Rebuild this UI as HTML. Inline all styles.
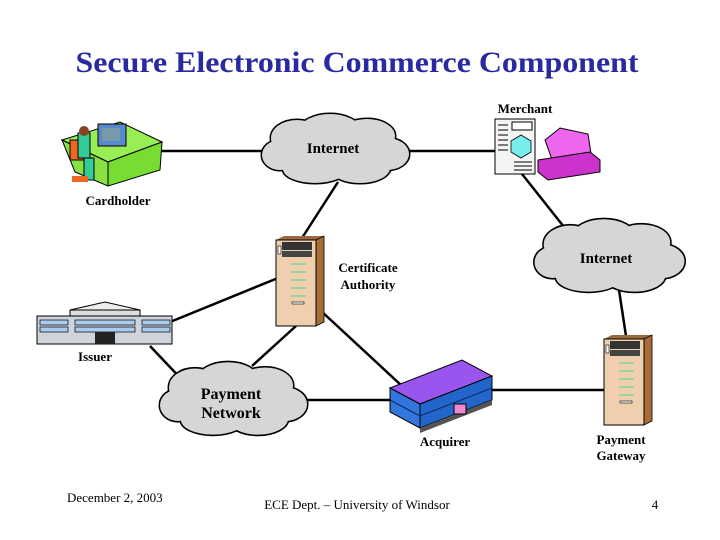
<!DOCTYPE html>
<html><head><meta charset="utf-8"><style>
html,body{margin:0;padding:0;background:#fff;}
svg{display:block}
text{font-family:"Liberation Serif",serif;}
</style></head><body>
<svg width="720" height="540" viewBox="0 0 720 540" xmlns="http://www.w3.org/2000/svg">
<defs>
<g id="cloudShape">
 <ellipse cx="0" cy="0" rx="62" ry="22"/>
 <ellipse cx="-38" cy="-12" rx="26" ry="18"/>
 <ellipse cx="-5" cy="-20" rx="30" ry="16"/>
 <ellipse cx="32" cy="-14" rx="28" ry="17"/>
 <ellipse cx="52" cy="4" rx="22" ry="16"/>
 <ellipse cx="25" cy="18" rx="30" ry="15"/>
 <ellipse cx="-20" cy="19" rx="32" ry="14"/>
 <ellipse cx="-55" cy="5" rx="18" ry="15"/>
</g>
<g id="cloud">
 <use href="#cloudShape" fill="none" stroke="#000" stroke-width="3"/>
 <use href="#cloudShape" fill="#d6d6d6" stroke="none"/>
</g>
<g id="server">
 <polygon points="0,4 8,0 48,0 40,4" fill="#9b6a3c"/>
 <polygon points="40,4 48,0 48,86 40,90" fill="#a86c36" stroke="#000" stroke-width="0.8"/>
 <rect x="0" y="4" width="40" height="86" fill="#efcfae" stroke="#000" stroke-width="1"/>
 <rect x="6" y="6" width="30" height="8" fill="#333"/>
 <rect x="6" y="15" width="30" height="6" fill="#444"/>
 <rect x="2" y="10" width="3" height="8" fill="#fff" stroke="#000" stroke-width="0.6"/>
 <line x1="15" y1="28" x2="30" y2="28" stroke="#5c9" stroke-width="1"/>
 <line x1="15" y1="36" x2="30" y2="36" stroke="#5c9" stroke-width="1"/>
 <line x1="15" y1="44" x2="30" y2="44" stroke="#5c9" stroke-width="1"/>
 <line x1="15" y1="52" x2="30" y2="52" stroke="#5c9" stroke-width="1"/>
 <line x1="15" y1="60" x2="30" y2="60" stroke="#5c9" stroke-width="1"/>
 <rect x="16" y="66" width="12" height="2" fill="#fff" stroke="#000" stroke-width="0.6"/>
</g>
</defs>

<text x="357" y="72" font-size="30" font-weight="bold" text-anchor="middle" fill="#2a2aa0" textLength="563" lengthAdjust="spacingAndGlyphs">Secure Electronic Commerce Component</text>

<g stroke="#000" stroke-width="2.5" fill="none">
 <line x1="160" y1="151" x2="265" y2="151"/>
 <line x1="405" y1="151" x2="495" y2="151"/>
 <line x1="522" y1="174" x2="568" y2="232"/>
 <line x1="619" y1="290" x2="626" y2="336"/>
 <line x1="338" y1="182" x2="302" y2="238"/>
 <line x1="170" y1="322" x2="278" y2="278"/>
 <line x1="296" y1="326" x2="252" y2="366"/>
 <line x1="320" y1="310" x2="402" y2="386"/>
 <line x1="150" y1="346" x2="186" y2="384"/>
 <line x1="305" y1="400" x2="395" y2="400"/>
 <line x1="485" y1="390" x2="605" y2="390"/>
</g>

<use href="#cloud" transform="translate(335,150)"/>
<text x="333" y="153" font-size="15" font-weight="bold" text-anchor="middle">Internet</text>
<use href="#cloud" transform="translate(609,257) scale(1.02,1.05)"/>
<text x="606" y="263" font-size="15" font-weight="bold" text-anchor="middle">Internet</text>
<use href="#cloud" transform="translate(233,400) scale(1.0,1.05)"/>
<text x="231" y="399" font-size="16" font-weight="bold" text-anchor="middle">Payment</text>
<text x="231" y="418" font-size="16" font-weight="bold" text-anchor="middle">Network</text>

<!-- Cardholder -->
<g>
 <polygon points="62,140 120,122 162,142 108,162" fill="#99ee55" stroke="#000" stroke-width="1"/>
 <polygon points="108,162 162,142 160,170 108,186" fill="#77dd33" stroke="#000" stroke-width="1"/>
 <polygon points="62,140 108,162 108,186 75,172" fill="#88e044" stroke="#000" stroke-width="1"/>
 <rect x="98" y="124" width="28" height="22" fill="#5588cc" stroke="#000"/>
 <rect x="102" y="128" width="18" height="13" fill="#7799aa"/>
 <rect x="70" y="140" width="14" height="20" fill="#ee6622" stroke="#000"/>
 <rect x="78" y="133" width="12" height="25" fill="#33cc99" stroke="#000"/>
 <circle cx="84" cy="131" r="5" fill="#884422"/>
 <rect x="84" y="158" width="10" height="22" fill="#33cc99" stroke="#000"/>
 <rect x="72" y="176" width="16" height="6" fill="#ee6622"/>
</g>
<text x="118" y="205" font-size="13" font-weight="bold" text-anchor="middle">Cardholder</text>

<!-- Merchant -->
<text x="525" y="113" font-size="13" font-weight="bold" text-anchor="middle">Merchant</text>
<rect x="495" y="119" width="40" height="55" fill="#f4f4f4" stroke="#000"/>
<g stroke="#000" stroke-width="1">
 <line x1="498" y1="125" x2="508" y2="125"/><line x1="498" y1="130" x2="508" y2="130"/><line x1="498" y1="135" x2="508" y2="135"/>
 <line x1="498" y1="140" x2="508" y2="140"/><line x1="498" y1="145" x2="508" y2="145"/><line x1="498" y1="150" x2="508" y2="150"/>
 <line x1="514" y1="162" x2="532" y2="162"/><line x1="514" y1="166" x2="532" y2="166"/><line x1="514" y1="170" x2="532" y2="170"/>
</g>
<polygon points="521,135 531,141 531,152 521,158 511,152 511,141" fill="#77eeee" stroke="#000" stroke-width="0.8"/>
<rect x="512" y="122" width="20" height="8" fill="#fff" stroke="#000"/>
<polygon points="545,140 560,128 588,134 592,160 555,168" fill="#ee66ee" stroke="#000"/>
<polygon points="538,160 590,152 600,160 600,172 548,180 538,172" fill="#cc33cc" stroke="#000"/>

<!-- Certificate Authority -->
<use href="#server" transform="translate(276,236)"/>
<text x="368" y="272" font-size="13" font-weight="bold" text-anchor="middle">Certificate</text>
<text x="368" y="289" font-size="13" font-weight="bold" text-anchor="middle">Authority</text>

<!-- Payment Gateway -->
<use href="#server" transform="translate(604,335)"/>
<text x="621" y="444" font-size="13" font-weight="bold" text-anchor="middle">Payment</text>
<text x="621" y="460" font-size="13" font-weight="bold" text-anchor="middle">Gateway</text>

<!-- Issuer -->
<g>
 <polygon points="70,310 105,302 140,310" fill="#eee" stroke="#000"/>
 <rect x="70" y="310" width="70" height="6" fill="#ddd" stroke="#000"/>
 <rect x="37" y="316" width="135" height="28" fill="#cfd4dc" stroke="#000"/>
 <g fill="#aaccee" stroke="#000" stroke-width="0.7">
  <rect x="40" y="320" width="28" height="5"/><rect x="40" y="327" width="28" height="5"/>
  <rect x="142" y="320" width="28" height="5"/><rect x="142" y="327" width="28" height="5"/>
  <rect x="75" y="320" width="60" height="5"/><rect x="75" y="327" width="60" height="5"/>
 </g>
 <rect x="95" y="332" width="20" height="12" fill="#222"/>
</g>
<text x="95" y="361" font-size="13" font-weight="bold" text-anchor="middle">Issuer</text>

<!-- Acquirer -->
<g>
 <polygon points="390,388 462,360 492,376 420,404" fill="#9955ee" stroke="#000"/>
 <polygon points="390,388 420,404 420,428 390,412" fill="#3377dd" stroke="#000"/>
 <polygon points="420,404 492,376 492,400 420,428" fill="#2266cc" stroke="#000"/>
 <g stroke="#0a2a66" stroke-width="1">
  <line x1="420" y1="416" x2="492" y2="388"/>
  <line x1="390" y1="400" x2="420" y2="416"/>
 </g>
 <polygon points="420,428 492,400 492,405 420,433" fill="#555"/>
 <rect x="454" y="404" width="12" height="10" fill="#ee88cc" stroke="#000"/>
</g>
<text x="445" y="446" font-size="13" font-weight="bold" text-anchor="middle">Acquirer</text>

<text x="67" y="502" font-size="13">December 2, 2003</text>
<text x="357" y="509" font-size="13" text-anchor="middle">ECE Dept. – University of Windsor</text>
<text x="655" y="509" font-size="13" text-anchor="middle">4</text>
</svg>
</body></html>
